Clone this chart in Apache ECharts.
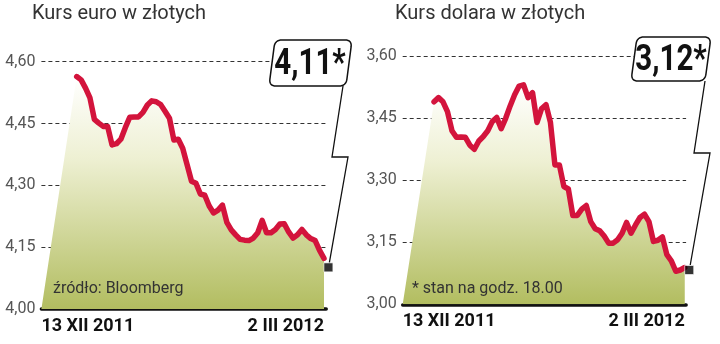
<!DOCTYPE html>
<html>
<head>
<meta charset="utf-8">
<script src="https://cdn.jsdelivr.net/npm/echarts@6/dist/echarts.min.js"></script>
<style>
html,body{margin:0;padding:0;background:#fff;}
#c{width:720px;height:344px;}
</style>
</head>
<body>
<div id="c"></div>
<script>
// ---- data (trading days 13 XII 2011 .. 2 III 2012) ----
const titleEuro = 'Kurs euro w złotych';
const titleUsd = 'Kurs dolara w złotych';
const noteEuro = 'źródło: Bloomberg';
const noteUsd = '* stan na godz. 18.00';
const dateLabels = ['13 XII 2011', '2 III 2012'];
const euroTicks = [4.00, 4.15, 4.30, 4.45, 4.60];
const usdTicks = [3.00, 3.15, 3.30, 3.45, 3.60];
const euroValues = [
  4.564, 4.556, 4.536, 4.512, 4.460, 4.451, 4.443, 4.443, 4.398, 4.401,
  4.412, 4.440, 4.465, 4.466, 4.466, 4.477, 4.495, 4.505, 4.503, 4.496,
  4.480, 4.463, 4.410, 4.412, 4.390, 4.350, 4.310, 4.305, 4.279, 4.276,
  4.250, 4.233, 4.240, 4.252, 4.210, 4.192, 4.180, 4.169, 4.167, 4.166,
  4.172, 4.185, 4.215, 4.185, 4.185, 4.193, 4.206, 4.207, 4.187, 4.172,
  4.180, 4.193, 4.180, 4.171, 4.166, 4.142, 4.123
];
const usdValues = [
  3.490, 3.500, 3.490, 3.466, 3.420, 3.404, 3.405, 3.404, 3.385, 3.375,
  3.395, 3.406, 3.420, 3.442, 3.452, 3.425, 3.450, 3.480, 3.507, 3.528,
  3.531, 3.500, 3.512, 3.440, 3.473, 3.483, 3.440, 3.337, 3.337, 3.285,
  3.279, 3.215, 3.215, 3.230, 3.239, 3.200, 3.183, 3.178, 3.165, 3.148,
  3.148, 3.156, 3.172, 3.198, 3.172, 3.192, 3.210, 3.218, 3.200, 3.152,
  3.155, 3.163, 3.120, 3.105, 3.080, 3.083, 3.089
];
const euroLast = 4.101;   // black square (latest quote)
const usdLast = 3.083;
const euroCallout = '4,11*';
const usdCallout = '3,12*';

// ---- styling ----
const RED = '#d3143c';
const FONT = 'Roboto, "Liberation Sans", sans-serif';
const fmt = v => v.toFixed(2).replace('.', ',');
const lastIdx = euroValues.length - 1;
const markX = lastIdx + 1;

function areaData(vals, base, startX) {
  return [[startX, base]].concat(vals.map((v, i) => [i, v]));
}
function gradient() {
  return new echarts.graphic.LinearGradient(0, 0, 0, 1, [
    {offset: 0, color: '#ffffff'},
    {offset: 0.35, color: '#eef0d3'},
    {offset: 1, color: '#b2bd60'}
  ]);
}
function xAxisCfg(grid, min, max) {
  return {
    type: 'value', gridIndex: grid, min: min, max: max,
    splitLine: {show: false}, axisTick: {show: false},
    axisLine: {show: true, onZero: false, lineStyle: {color: '#111', width: 3.5}},
    axisLabel: {
      customValues: [min, lastIdx],
      formatter: v => (v === min ? dateLabels[0] : dateLabels[1]),
      alignMinLabel: 'left', alignMaxLabel: 'right',
      margin: 8, fontSize: 18, fontWeight: 'bold', color: '#111', fontFamily: FONT
    }
  };
}
function yAxisCfg(grid, ticks) {
  return {
    type: 'value', gridIndex: grid, min: ticks[0], max: ticks[ticks.length - 1],
    interval: +(ticks[1] - ticks[0]).toFixed(2),
    axisLine: {show: false}, axisTick: {show: false},
    splitLine: {show: true, lineStyle: {type: [4, 3], color: '#333', width: 1}},
    axisLabel: {formatter: fmt, fontSize: 16, color: '#555', margin: 6, fontFamily: FONT}
  };
}
function seriesFor(idx, vals, base, startX, last) {
  return [
    {type: 'line', xAxisIndex: idx, yAxisIndex: idx, data: areaData(vals, base, startX),
     symbol: 'none', lineStyle: {width: 0}, areaStyle: {color: gradient(), opacity: 1},
     silent: true, z: 1},
    {type: 'line', xAxisIndex: idx, yAxisIndex: idx, data: vals.map((v, i) => [i, v]),
     symbol: 'none', lineStyle: {color: RED, width: 5.5, join: 'round', cap: 'round'},
     silent: true, z: 3},
    {type: 'scatter', xAxisIndex: idx, yAxisIndex: idx, data: [[markX, last]],
     symbol: 'rect', symbolSize: 9, clip: false,
     itemStyle: {color: '#000', borderColor: '#fff', borderWidth: 0.8}, silent: true, z: 4}
  ];
}

const chart = echarts.init(document.getElementById('c'), null, {renderer: 'canvas'});
const option = {
  animation: false,
  backgroundColor: '#fff',
  title: [
    {text: titleEuro, left: 32, top: 4, padding: 0,
     textStyle: {fontSize: 20, fontWeight: 'normal', color: '#333', fontFamily: FONT}},
    {text: titleUsd, left: 395, top: 4, padding: 0,
     textStyle: {fontSize: 20, fontWeight: 'normal', color: '#333', fontFamily: FONT}},
    {text: noteEuro, left: 53, top: 281, padding: 0, z: 10,
     textStyle: {fontSize: 16, fontWeight: 'normal', color: '#333', fontFamily: FONT}},
    {text: noteUsd, left: 412, top: 281, padding: 0, z: 10,
     textStyle: {fontSize: 16, fontWeight: 'normal', color: '#333', fontFamily: FONT}}
  ],
  grid: [
    {left: 41.4, top: 61.7, width: 284.8, height: 247.3},
    {left: 402.7, top: 56.3, width: 283.4, height: 248}
  ],
  xAxis: [xAxisCfg(0, -8, 56.5), xAxisCfg(1, -7, 56.3)],
  yAxis: [yAxisCfg(0, euroTicks), yAxisCfg(1, usdTicks)],
  series: seriesFor(0, euroValues, euroTicks[0], -8, euroLast)
    .concat(seriesFor(1, usdValues, usdTicks[0], -7, usdLast))
};
chart.setOption(option);

// ---- callout boxes: slanted rounded parallelogram as polygon ----
function roundedPoly(corners, r) {
  const pts = [];
  const n = corners.length;
  for (let i = 0; i < n; i++) {
    const p = corners[i], prev = corners[(i + n - 1) % n], next = corners[(i + 1) % n];
    const d1 = Math.hypot(prev[0] - p[0], prev[1] - p[1]);
    const d2 = Math.hypot(next[0] - p[0], next[1] - p[1]);
    const a = [p[0] + (prev[0] - p[0]) * r / d1, p[1] + (prev[1] - p[1]) * r / d1];
    const b = [p[0] + (next[0] - p[0]) * r / d2, p[1] + (next[1] - p[1]) * r / d2];
    for (let k = 0; k <= 8; k++) {
      const t = k / 8;
      pts.push([
        (1 - t) * (1 - t) * a[0] + 2 * (1 - t) * t * p[0] + t * t * b[0],
        (1 - t) * (1 - t) * a[1] + 2 * (1 - t) * t * p[1] + t * t * b[1]
      ]);
    }
  }
  return pts;
}
const pE = chart.convertToPixel({seriesIndex: 2}, [markX, euroLast]);
const pU = chart.convertToPixel({seriesIndex: 5}, [markX, usdLast]);
const boxStyle = {fill: '#fff', stroke: '#111', lineWidth: 1.5};
const txt = (t, x, y) => ({type: 'text', z: 101, x: x, y: y, scaleX: 0.82, scaleY: 1,
  style: {text: t, fontSize: 36, fontWeight: 'bold', fill: '#111', fontFamily: FONT,
          align: 'center', verticalAlign: 'middle'}});
chart.setOption({
  graphic: [
    {type: 'polyline', z: 99, shape: {points: [[343, 86], [332, 157], [348, 157], [pE[0] + 1, pE[1] - 5]]},
     style: {stroke: '#111', lineWidth: 1.3, fill: null}},
    {type: 'polygon', z: 100,
     shape: {points: roundedPoly([[275, 40], [352, 40], [346, 86], [269, 86]], 7)},
     style: boxStyle},
    txt(euroCallout, 310, 65),
    {type: 'polyline', z: 99, shape: {points: [[705, 81], [694, 153], [710, 153], [pU[0] + 1, pU[1] - 5]]},
     style: {stroke: '#111', lineWidth: 1.3, fill: null}},
    {type: 'polygon', z: 100,
     shape: {points: roundedPoly([[637, 37], [711, 37], [705, 81], [631, 81]], 7)},
     style: boxStyle},
    txt(usdCallout, 671, 61)
  ]
});
</script>
</body>
</html>
